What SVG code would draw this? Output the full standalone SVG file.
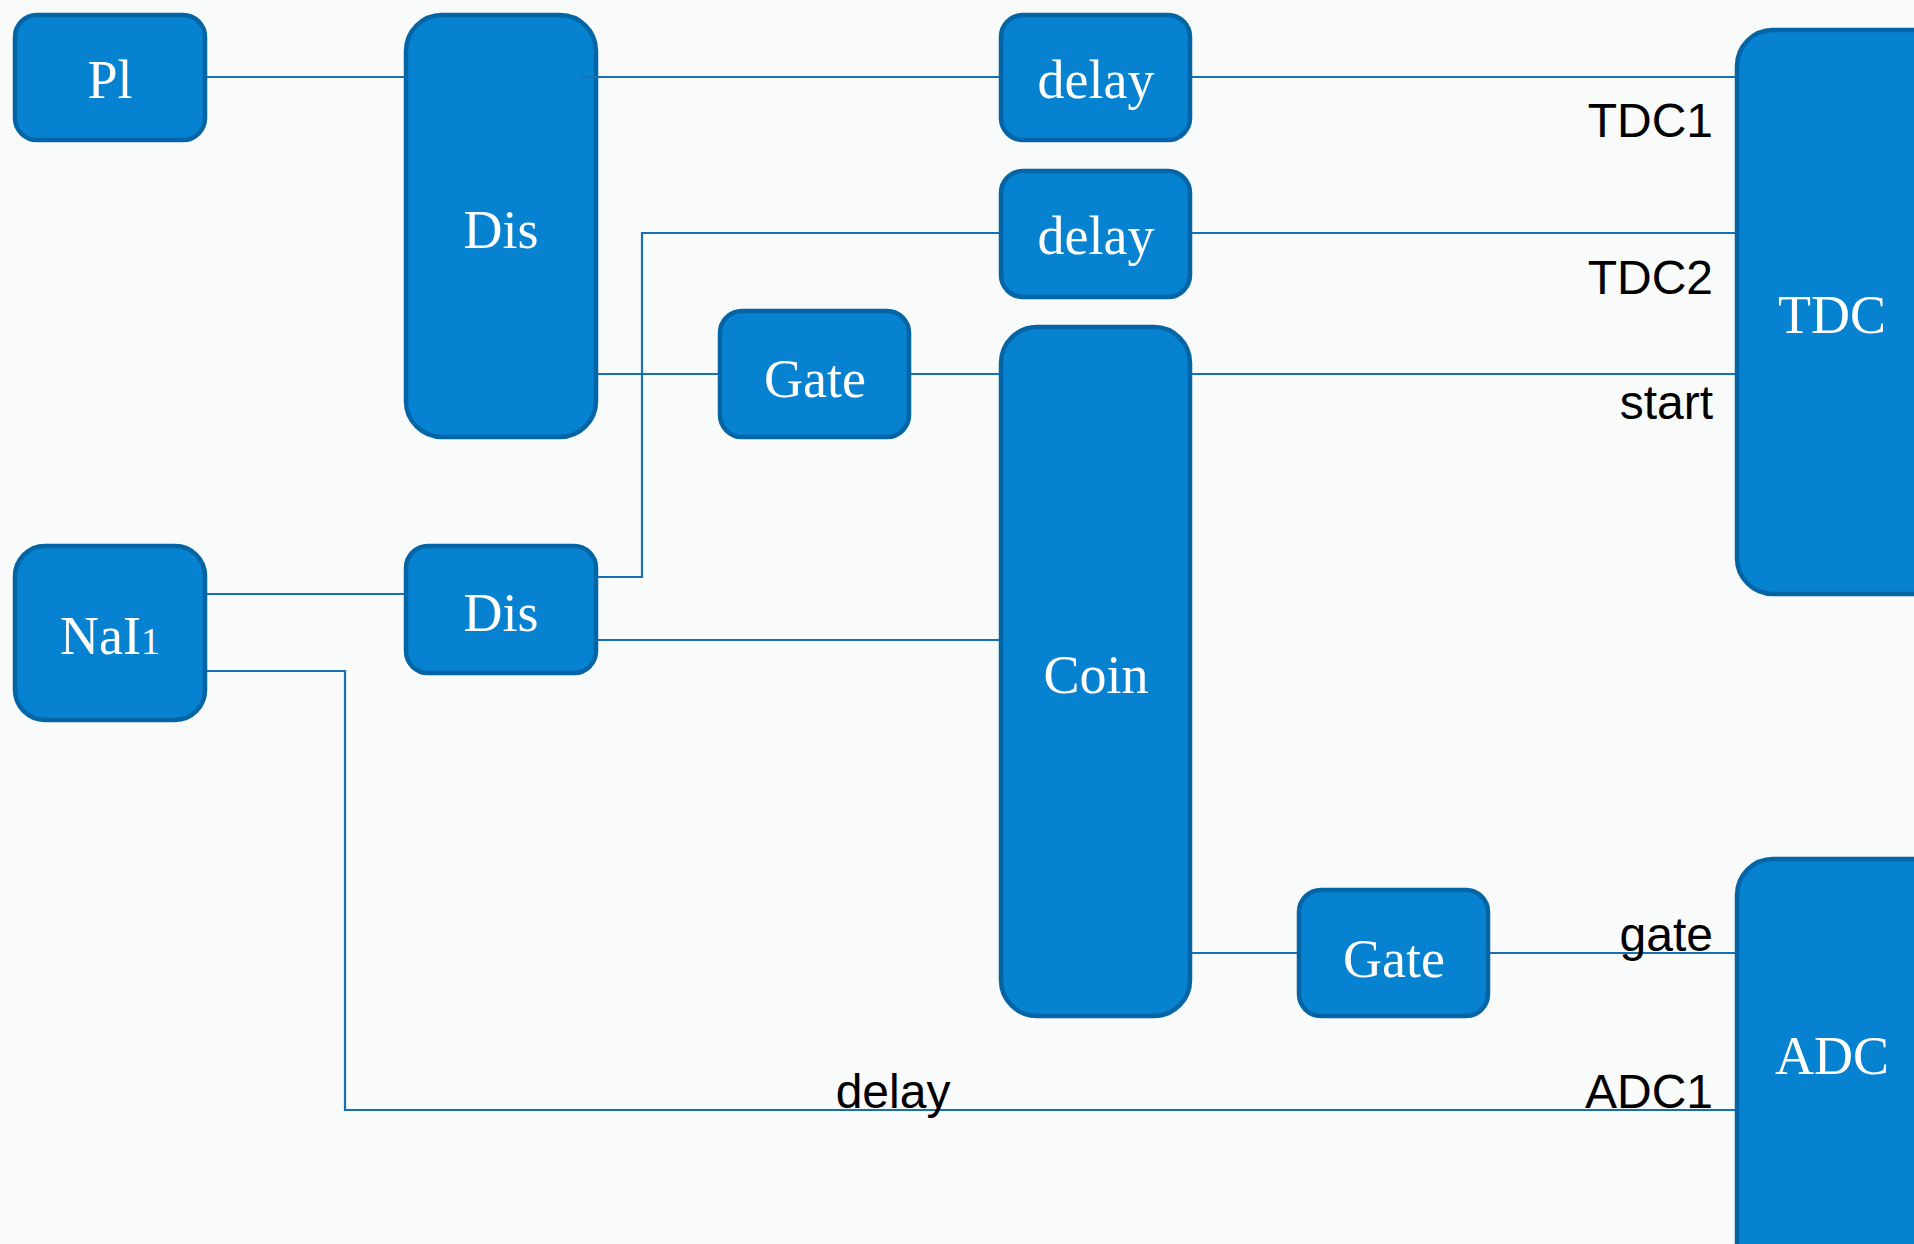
<svg xmlns="http://www.w3.org/2000/svg" width="1914" height="1244" viewBox="0 0 1914 1244">
<style>
.box{fill:#0782d0;stroke:#0465a6;stroke-width:4.5}
.nt{fill:#ffffff;font-family:"Liberation Serif",serif;font-size:54px;text-anchor:middle}
.lbl{fill:#000000;font-family:"Liberation Sans",Arial,sans-serif;font-size:48px}
.wire{fill:none;stroke:#1770b4;stroke-width:2.2}
</style>
<rect x="0" y="0" width="1914" height="1244" fill="#f9fafa"/>
<g id="pl"><rect class="box" x="15" y="15" width="190" height="125" rx="22"/><text class="nt" x="110" y="98">Pl</text></g>
<g id="dis1"><rect class="box" x="406" y="15" width="190" height="422" rx="36"/><text class="nt" x="501" y="248">Dis</text></g>
<g id="delay1"><rect class="box" x="1001" y="15" width="189" height="125" rx="22"/><text class="nt" x="1096" y="98">delay</text></g>
<g id="delay2"><rect class="box" x="1001" y="171" width="189" height="126" rx="22"/><text class="nt" x="1096" y="254">delay</text></g>
<g id="gate1"><rect class="box" x="720" y="311" width="189" height="126" rx="22"/><text class="nt" x="815" y="397">Gate</text></g>
<g id="coin"><rect class="box" x="1001" y="327" width="189" height="689" rx="36"/><text class="nt" x="1096" y="693">Coin</text></g>
<g id="tdc"><rect class="box" x="1737" y="30" width="240" height="564" rx="36"/><text class="nt" x="1832" y="333">TDC</text></g>
<g id="nai"><rect class="box" x="15" y="546" width="190" height="174" rx="30"/><text class="nt" x="110" y="654">NaI<tspan font-size="38">1</tspan></text></g>
<g id="dis2"><rect class="box" x="406" y="546" width="190" height="127" rx="22"/><text class="nt" x="501" y="631">Dis</text></g>
<g id="gate2"><rect class="box" x="1299" y="890" width="189" height="126" rx="22"/><text class="nt" x="1394" y="977">Gate</text></g>
<g id="adc"><rect class="box" x="1737" y="859" width="240" height="420" rx="36"/><text class="nt" x="1832" y="1074">ADC</text></g>
<g id="connectors">
<line class="wire" x1="207" y1="77" x2="404" y2="77"/>
<line class="wire" x1="581" y1="77" x2="999" y2="77"/>
<line class="wire" x1="1192" y1="77" x2="1735" y2="77"/>
<polyline class="wire" points="598,577 642,577 642,233 999,233"/>
<line class="wire" x1="1192" y1="233" x2="1735" y2="233"/>
<line class="wire" x1="598" y1="374" x2="718" y2="374"/>
<line class="wire" x1="911" y1="374" x2="999" y2="374"/>
<line class="wire" x1="1192" y1="374" x2="1735" y2="374"/>
<line class="wire" x1="207" y1="594" x2="404" y2="594"/>
<line class="wire" x1="598" y1="640" x2="999" y2="640"/>
<polyline class="wire" points="207,671 345,671 345,1110 1735,1110"/>
<line class="wire" x1="1192" y1="953" x2="1297" y2="953"/>
<line class="wire" x1="1490" y1="953" x2="1735" y2="953"/>
</g>
<g id="labels">
<text class="lbl" x="1713" y="137" text-anchor="end">TDC1</text>
<text class="lbl" x="1713" y="294" text-anchor="end">TDC2</text>
<text class="lbl" x="1713" y="419" text-anchor="end">start</text>
<text class="lbl" x="1713" y="951" text-anchor="end">gate</text>
<text class="lbl" x="1713" y="1108" text-anchor="end">ADC1</text>
<text class="lbl" x="893" y="1108" text-anchor="middle">delay</text>
</g>
</svg>
